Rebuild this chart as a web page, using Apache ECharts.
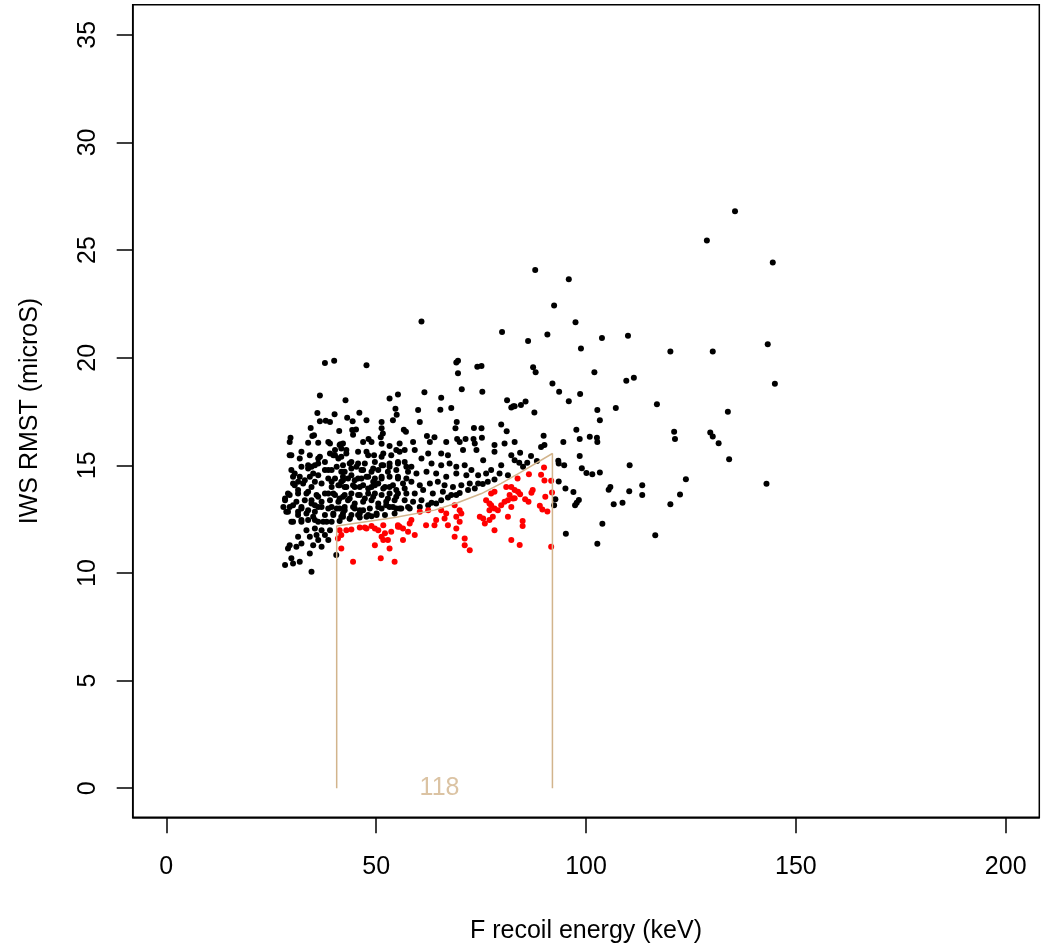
<!DOCTYPE html>
<html>
<head>
<meta charset="utf-8">
<script src="https://cdn.jsdelivr.net/npm/echarts@6/dist/echarts.min.js"></script>
<style>
  html, body { margin: 0; padding: 0; background: #fff; }
  #chart { width: 1045px; height: 951px; }
</style>
</head>
<body>
<div id="chart"></div>
<script>
// tick labels
const xTicks = [0, 50, 100, 150, 200];
const yTicks = [0, 5, 10, 15, 20, 25, 30, 35];

// events outside the cut (black), [energy keV, RMST microS]
const blackPoints = [
  // sparse high-energy tail
  [135.5,26.8],[128.8,25.44],[144.5,24.42],[143.3,20.63],[120.1,20.29],[130.2,20.29],[145.0,18.79],
  [116.9,17.84],[133.8,17.49],[121.0,16.56],[121.2,16.22],[129.6,16.53],[130.2,16.34],[131.6,16.03],
  [134.1,15.28],[123.8,14.36],[113.4,14.08],[113.4,13.62],[122.4,13.65],[143.0,14.14],[120.1,13.19],[116.5,11.75],
  [87.9,24.07],[95.9,23.65],[92.4,22.43],[97.5,21.65],[90.8,21.08],[86.2,20.78],[103.8,20.92],[110.0,21.02],
  [98.8,20.43],[87.4,19.56],[88.0,19.33],[102.0,19.33],[109.6,18.93],[111.4,19.07],[92.0,18.8],[93.6,18.42],
  [98.6,18.31],[95.9,17.98],[83.0,17.75],[84.5,17.8],[85.6,17.97],[87.7,17.46],[102.7,17.57],[107.1,17.66],
  [103.3,17.1],[97.7,16.65],[89.9,16.37],[100.9,16.33],[102.6,16.28],[102.7,16.08],[98.5,16.22],[94.6,16.08],
  [90.1,15.94],[89.3,15.85],[84.3,15.58],[86.9,15.44],[98.5,15.44],[83.0,15.24],[84.1,15.12],[86.0,15.12],
  [85.0,14.93],[88.3,15.2],[93.4,15.21],[93.5,15.09],[94.8,15.01],[99.0,14.86],[100.1,14.64],[101.5,14.59],
  [103.3,14.67],[110.4,15.0],[93.5,14.25],[95.1,13.93],[97.0,13.76],[105.4,13.87],[105.8,14.0],[110.3,13.8],
  [92.7,13.43],[92.4,13.15],[98.3,13.39],[97.8,13.26],[97.4,13.15],[106.6,13.19],[108.7,13.26],[103.9,12.29],
  [95.2,11.82],[102.7,11.36],
  [60.8,21.68],[80.0,21.2],
  // upper part of the main cluster
  [37.8,19.76],[40.0,19.86],[47.7,19.65],[36.6,18.25],[42.7,18.03],[36.0,17.43],[40.1,17.37],[46.0,17.44],
  [53.2,18.11],[55.2,18.29],[54.6,17.63],[54.9,17.35],[36.6,17.05],[38.0,17.07],[39.0,17.01],[43.1,17.21],
  [44.4,17.05],[47.7,17.09],[51.3,17.01],[54.0,17.1],[34.4,16.74],[35.2,16.4],[34.8,16.36],[41.2,16.6],
  [44.3,16.64],[45.2,16.67],[44.5,16.42],[51.3,16.72],[51.6,16.48],[51.1,16.3],[29.6,16.28],[48.2,16.22],
  [69.1,19.78],[69.5,19.86],[74.1,19.58],[75.1,19.62],[69.5,19.28],[61.5,18.4],[65.5,18.14],[70.4,18.53],
  [75.3,18.42],[81.2,18.02],[82.2,17.69],[82.7,17.74],[60.0,17.57],[65.3,17.58],[67.9,17.67],[60.4,17.01],
  [69.2,17.01],[68.9,16.72],[73.3,16.74],[75.1,16.72],[79.8,16.9],[81.1,16.58],[56.6,16.65],[57.1,16.56],
  [62.1,16.36],[63.9,16.3],[69.3,16.22],[71.3,16.22],[73.2,16.22],[75.2,16.28],
  // dense core, left half
  [33.8,16.05],[36.2,16.05],[38.6,16.09],[41.5,15.98],[46.9,16.09],[48.9,16.09],[51.3,16.0],[53.2,15.9],
  [29.4,15.47],[32.2,15.63],[34.2,15.47],[40.2,15.71],[41.7,15.78],[39.8,15.47],[42.9,15.55],[45.7,15.63],
  [47.7,15.63],[49.5,15.47],[51.7,15.55],[53.6,15.47],[54.8,15.71],
  [36.2,15.32],[37.8,15.16],[35.4,15.01],[33.8,14.85],[41.0,15.32],[44.1,15.16],[47.3,15.09],[45.7,15.09],
  [49.7,15.16],[51.3,15.01],[53.2,15.09],[55.2,15.16],
  [29.8,14.78],[32.2,14.93],[34.6,14.93],[37.8,14.78],[39.4,14.78],[42.5,14.7],[44.1,14.85],[46.5,14.78],
  [48.9,14.7],[50.5,14.78],[52.8,14.7],[54.8,14.78],
  [30.2,14.47],[31.8,14.47],[34.2,14.47],[36.2,14.54],[38.6,14.39],[40.2,14.39],[41.7,14.24],[43.3,14.39],
  [44.9,14.31],[46.5,14.39],[48.1,14.47],[49.7,14.39],[51.3,14.39],[53.2,14.47],[55.2,14.39],
  [30.6,14.08],[32.6,14.16],[34.6,14.0],[37.0,14.16],[39.4,14.0],[41.3,14.08],[42.9,14.0],[44.9,14.0],
  [46.9,14.08],[48.9,14.0],[50.5,14.16],[52.1,14.0],[54.0,14.08],
  [29.0,13.69],[31.4,13.69],[33.8,13.77],[35.8,13.62],[37.8,13.69],[39.8,13.69],[42.5,13.62],[44.1,13.69],
  [46.1,13.62],[48.1,13.69],[49.7,13.69],[51.3,13.62],[53.2,13.69],[55.2,13.69],
  [28.3,13.38],[31.0,13.31],[33.0,13.38],[34.6,13.23],[37.0,13.31],[39.0,13.38],[41.0,13.31],[43.3,13.38],
  [44.9,13.23],[46.9,13.31],[48.9,13.38],[50.5,13.23],[52.4,13.31],[54.4,13.38],
  [29.4,13.07],[32.2,13.0],[33.8,12.92],[36.2,13.07],[38.6,13.0],[40.6,13.0],[42.5,12.92],[44.9,13.0],
  [46.9,12.92],[48.5,13.0],[51.3,13.0],[53.2,13.07],[54.8,13.0],
  [28.6,12.84],[31.4,12.84],[33.4,12.76],[35.4,12.84],[37.8,12.69],[39.8,12.69],[42.1,12.76],[44.1,12.69],
  [46.1,12.76],[48.1,12.69],[50.1,12.76],[52.1,12.69],[54.4,12.76],
  [30.2,12.38],[32.2,12.38],[33.8,12.46],[35.4,12.46],[37.4,12.38],[39.4,12.38],[41.3,12.42],[43.7,12.52],
  [46.1,12.58],[48.9,12.64],
  [33.4,11.99],[35.4,12.07],[37.0,11.99],[39.0,11.99],[31.4,11.68],[34.2,11.68],[35.8,11.76],[37.8,11.76],
  [36.2,11.53],[38.6,11.53],[29.4,11.29],[29.0,11.14],[31.0,11.22],[32.2,11.37],[35.0,11.29],[37.0,11.22],
  [34.2,10.91],[40.5,10.83],[29.8,10.68],[31.8,10.52],[30.2,10.44],[28.3,10.37],[34.6,10.06],
  // dense core, more left-half events
  [29.4,16.09],[39.0,16.02],[41.3,15.94],[29.8,15.47],[31.8,15.32],[36.6,15.4],[39.0,15.55],[40.2,15.47],
  [41.7,15.4],[30.6,14.62],[33.8,15.01],[36.2,15.09],[35.0,14.62],[38.6,14.78],[40.6,14.93],[41.7,14.7],
  [30.2,14.16],[31.4,14.24],[33.0,14.31],[35.4,14.24],[39.4,14.24],[41.0,14.08],[42.1,14.31],
  [28.3,13.46],[29.4,13.62],[31.4,13.85],[33.4,13.69],[34.6,13.38],[36.2,13.54],[38.6,13.69],[40.2,13.62],
  [41.3,13.46],[27.9,13.07],[30.2,13.15],[32.2,13.07],[35.4,13.15],[37.0,13.07],[39.4,13.07],[41.3,13.0],
  [29.0,12.84],[31.4,12.69],[35.0,12.61],[39.8,12.76],[41.7,12.61],[29.8,12.38],[32.2,12.46],[36.2,12.38],
  [38.2,12.38],
  [42.1,16.02],[42.9,15.71],[48.1,15.47],[51.3,15.4],[55.6,16.02],[56.8,15.71],[42.1,15.01],[43.7,15.09],
  [45.3,14.93],[46.9,14.78],[49.3,14.85],[51.7,15.01],[53.2,14.93],[55.2,15.09],[57.2,14.93],
  [42.1,14.47],[44.1,14.54],[45.7,14.39],[47.7,14.47],[49.3,14.24],[51.3,14.47],[55.2,14.47],[57.2,14.39],
  [42.5,14.0],[44.5,14.08],[46.1,14.0],[48.1,13.93],[49.7,14.08],[51.7,13.93],[53.2,14.0],[54.8,13.85],
  [56.8,13.93],[42.1,13.54],[43.7,13.46],[45.7,13.62],[47.3,13.46],[49.3,13.54],[52.8,13.46],[54.8,13.54],
  [42.5,13.07],[44.5,13.07],[46.1,12.92],[50.5,13.07],[52.4,13.15],[54.0,13.07],[56.0,13.0],[57.6,13.07],
  [42.1,12.61],[43.7,12.53],[45.7,12.69],[47.7,12.61],[50.1,12.69],
  // dense core, right half
  [58.8,16.09],[62.8,16.09],[66.7,16.09],[69.9,16.09],[73.5,16.02],[78.2,15.94],[80.6,16.02],[83.0,16.09],
  [55.6,15.63],[59.2,15.71],[62.4,15.55],[65.5,15.55],[67.1,15.47],[70.7,15.71],[73.9,15.71],[78.2,15.63],[82.2,15.47],
  [56.8,15.16],[58.4,14.93],[60.8,15.32],[63.2,15.09],[65.5,15.01],[67.5,15.09],[69.1,14.93],[71.1,15.01],
  [72.7,14.78],[75.5,15.24],[77.4,14.78],[79.8,15.01],
  [57.6,14.7],[59.6,14.62],[62.0,14.7],[64.3,14.62],[66.7,14.47],[69.1,14.62],[71.5,14.54],[74.3,14.54],
  [76.2,14.62],[79.4,14.62],[81.4,14.54],
  [56.4,14.16],[58.4,14.24],[60.4,14.08],[62.8,14.16],[64.7,14.24],[66.3,14.08],[68.3,14.0],[70.3,14.08],
  [72.3,14.16],[74.3,14.16],[76.6,14.24],[78.2,14.34],
  [57.2,13.69],[59.2,13.69],[61.2,13.85],[63.5,13.69],[65.9,13.77],[67.9,13.62],[69.9,13.72],[71.9,13.85],
  [73.5,13.93],[75.4,14.13],
  [56.8,13.38],[58.8,13.31],[60.8,13.38],[63.2,13.26],[65.5,13.38],[67.1,13.51],[69.1,13.62],
  [55.6,13.0],[58.0,13.0],[60.4,13.07],[62.4,13.15],[64.3,13.23]
];

// events inside the cut (red)
const redPoints = [
  [90.0,14.9],[89.3,14.56],[90.1,14.3],[91.7,14.28],[83.7,14.39],[86.4,14.59],[83.8,13.77],[84.3,13.66],
  [87.3,13.85],[87.0,13.73],[85.5,13.42],[86.3,13.31],[83.0,13.47],[90.3,13.54],[91.9,13.74],[89.0,13.12],
  [89.6,12.95],[90.8,12.86],[84.9,12.41],[84.9,12.18],[84.2,11.3],[91.7,11.22],
  [41.3,11.99],[41.7,11.76],[42.9,11.99],[44.1,12.02],[46.1,12.11],[47.3,12.11],[48.9,12.18],[49.7,12.07],
  [50.5,11.99],[52.1,11.84],[53.6,11.91],[51.3,11.68],[52.8,11.53],[51.7,11.53],[49.7,11.29],[53.2,11.14],
  [41.7,11.14],[44.5,10.52],[51.1,10.68],[54.4,10.52],[40.9,11.6],[55.2,12.15],
  [47.7,12.07],[51.7,12.22],[55.2,12.22],[56.4,12.07],
  [58.4,12.46],[58.0,12.3],[60.4,12.84],[62.4,12.92],[64.3,12.46],[65.5,12.92],[66.7,12.76],[66.3,12.53],
  [68.7,13.15],[69.9,12.92],[70.3,12.76],[69.1,12.61],[69.9,12.38],[67.1,12.22],[69.1,12.07],[68.7,11.68],
  [71.1,11.6],[71.1,11.29],[72.3,11.06],[63.9,12.22],[61.9,12.22],[55.6,12.15],[57.6,11.91],[56.4,11.53],
  [59.2,11.76],[74.7,12.61],[75.5,12.53],[75.9,12.3],[77.0,12.46],[77.8,12.61],[76.2,13.38],[77.0,13.23],
  [77.4,13.15],[77.0,12.92],[78.2,13.0],[79.0,12.92],[79.8,13.15],[80.6,13.31],[81.0,14.0],[82.2,14.0],
  [81.8,13.62],[81.4,13.38],[82.6,13.46],[83.0,13.85],[82.2,13.07],[81.4,12.61],[78.2,11.99],[82.2,11.53],
  [77.4,13.69],[78.2,13.77]
];

// outline of the selection cut
const cutLine = [
  [40.6,0],[40.6,12.18],[54.4,12.58],[63.9,12.92],[69.4,13.26],[75.1,13.69],
  [79.8,14.16],[84.2,14.65],[92.0,15.55],[92.0,0]
];
const cutCount = '118';
const cutCountPos = [65.1, 0];

const font = 'Liberation Sans, Arial, Helvetica, sans-serif';
const tan = '#D2B48C';

const chart = echarts.init(document.getElementById('chart'), null, { renderer: 'canvas' });

chart.setOption({
  animation: false,
  backgroundColor: '#fff',
  textStyle: { fontFamily: font },
  grid: {
    left: 132.7, right: 5.7, top: 4.7, bottom: 133.7,
    show: true, borderColor: '#000', borderWidth: 1.5, containLabel: false
  },
  xAxis: {
    type: 'value', min: -8, max: 208,
    name: 'F recoil energy (keV)', nameLocation: 'middle', nameGap: 101,
    nameTextStyle: { fontSize: 25, color: '#000', fontFamily: font },
    axisLine: { show: true, onZero: false, lineStyle: { color: '#000', width: 1.5 } },
    axisTick: { show: true, customValues: xTicks, length: 16, lineStyle: { color: '#000', width: 1.5 } },
    axisLabel: { customValues: xTicks, fontSize: 25, color: '#000', margin: 37, fontFamily: font },
    splitLine: { show: false }
  },
  yAxis: {
    type: 'value', min: -1.35, max: 36.4,
    name: 'IWS RMST (microS)', nameLocation: 'middle', nameGap: 90, nameRotate: 90,
    nameTextStyle: { fontSize: 25, color: '#000', fontFamily: font },
    axisLine: { show: true, onZero: false, lineStyle: { color: '#000', width: 1.5 } },
    axisTick: { show: true, customValues: yTicks, length: 16, lineStyle: { color: '#000', width: 1.5 } },
    axisLabel: { customValues: yTicks, fontSize: 25, color: '#000', margin: 32, rotate: 90, fontFamily: font },
    splitLine: { show: false }
  },
  series: [
    {
      type: 'scatter', data: blackPoints, symbolSize: 6,
      itemStyle: { color: '#000', opacity: 1 }, z: 2
    },
    {
      type: 'scatter', data: redPoints, symbolSize: 6,
      itemStyle: { color: '#FF0000', opacity: 1 }, z: 2
    },
    {
      type: 'line', data: cutLine, showSymbol: false, symbol: 'none',
      lineStyle: { color: tan, width: 1.5 }, z: 3
    },
    {
      type: 'scatter', data: [cutCountPos], symbolSize: 0.01,
      itemStyle: { color: 'rgba(0,0,0,0)' },
      label: {
        show: true, position: 'inside', formatter: cutCount,
        fontSize: 25, color: tan, fontFamily: font
      },
      z: 4
    }
  ]
});

window.addEventListener('resize', chart.resize);
</script>
</body>
</html>
